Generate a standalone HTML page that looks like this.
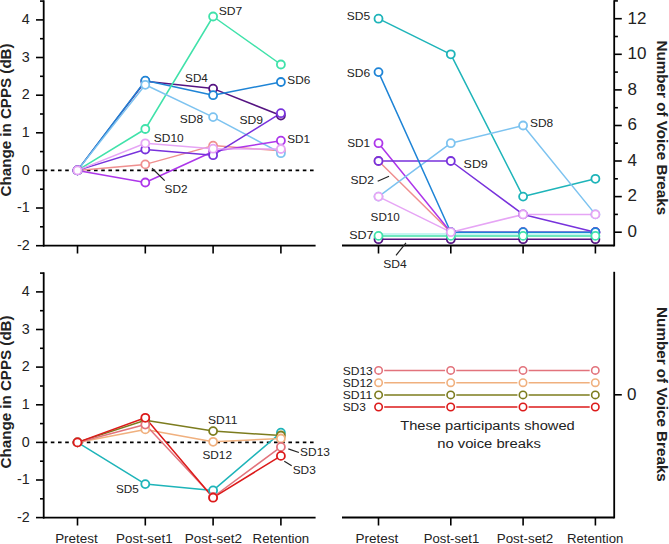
<!DOCTYPE html>
<html><head><meta charset="utf-8"><style>html,body{margin:0;padding:0;background:#fff;width:669px;height:544px;overflow:hidden}</style></head>
<body>
<svg width="669" height="544" viewBox="0 0 669 544" style="display:block" font-family='"Liberation Sans", sans-serif' fill="#222">
<rect width="669" height="544" fill="#fff"/>
<line x1="43.7" y1="0.3" x2="43.7" y2="246.5" stroke="#000" stroke-width="1.8"/>
<line x1="36" y1="245.7" x2="43.7" y2="245.7" stroke="#000" stroke-width="1.6"/>
<text x="29.8" y="249.8" font-size="14.3" text-anchor="end" font-weight="normal">-2</text>
<line x1="36" y1="208.0" x2="43.7" y2="208.0" stroke="#000" stroke-width="1.6"/>
<text x="29.8" y="212.2" font-size="14.3" text-anchor="end" font-weight="normal">-1</text>
<line x1="36" y1="170.4" x2="43.7" y2="170.4" stroke="#000" stroke-width="1.6"/>
<text x="29.8" y="174.6" font-size="14.3" text-anchor="end" font-weight="normal">0</text>
<line x1="36" y1="132.8" x2="43.7" y2="132.8" stroke="#000" stroke-width="1.6"/>
<text x="29.8" y="137.0" font-size="14.3" text-anchor="end" font-weight="normal">1</text>
<line x1="36" y1="95.2" x2="43.7" y2="95.2" stroke="#000" stroke-width="1.6"/>
<text x="29.8" y="99.4" font-size="14.3" text-anchor="end" font-weight="normal">2</text>
<line x1="36" y1="57.5" x2="43.7" y2="57.5" stroke="#000" stroke-width="1.6"/>
<text x="29.8" y="61.7" font-size="14.3" text-anchor="end" font-weight="normal">3</text>
<line x1="36" y1="19.9" x2="43.7" y2="19.9" stroke="#000" stroke-width="1.6"/>
<text x="29.8" y="24.1" font-size="14.3" text-anchor="end" font-weight="normal">4</text>
<line x1="40" y1="226.8" x2="43.7" y2="226.8" stroke="#000" stroke-width="1.6"/>
<line x1="40" y1="189.2" x2="43.7" y2="189.2" stroke="#000" stroke-width="1.6"/>
<line x1="40" y1="151.6" x2="43.7" y2="151.6" stroke="#000" stroke-width="1.6"/>
<line x1="40" y1="114.0" x2="43.7" y2="114.0" stroke="#000" stroke-width="1.6"/>
<line x1="40" y1="76.3" x2="43.7" y2="76.3" stroke="#000" stroke-width="1.6"/>
<line x1="40" y1="38.7" x2="43.7" y2="38.7" stroke="#000" stroke-width="1.6"/>
<line x1="40" y1="1.1" x2="43.7" y2="1.1" stroke="#000" stroke-width="1.6"/>
<line x1="43" y1="245.6" x2="315.6" y2="245.6" stroke="#000" stroke-width="1.8"/>
<line x1="77.5" y1="245.6" x2="77.5" y2="253.5" stroke="#000" stroke-width="1.6"/>
<line x1="145.3" y1="245.6" x2="145.3" y2="253.5" stroke="#000" stroke-width="1.6"/>
<line x1="213.1" y1="245.6" x2="213.1" y2="253.5" stroke="#000" stroke-width="1.6"/>
<line x1="280.9" y1="245.6" x2="280.9" y2="253.5" stroke="#000" stroke-width="1.6"/>
<line x1="43.6" y1="170.4" x2="315" y2="170.4" stroke="#000" stroke-width="1.8" stroke-dasharray="3.6 3.6"/>
<text transform="translate(10.9 119.9) rotate(-90)" font-size="14.5" font-weight="bold" text-anchor="middle" textLength="153" lengthAdjust="spacingAndGlyphs">Change in CPPS (dB)</text>
<polyline points="77.5,170.4 145.3,81.2 213.1,88.6 280.9,115.5" fill="none" stroke="#551482" stroke-width="1.5" stroke-linejoin="round"/>
<polyline points="77.5,170.4 145.3,80.6 213.1,95.2 280.9,82.0" fill="none" stroke="#1e84d6" stroke-width="1.5" stroke-linejoin="round"/>
<polyline points="77.5,170.4 145.3,129.0 213.1,16.5 280.9,64.5" fill="none" stroke="#40e2aa" stroke-width="1.5" stroke-linejoin="round"/>
<polyline points="77.5,170.4 145.3,164.4 213.1,145.6 280.9,150.8" fill="none" stroke="#ef8f8f" stroke-width="1.5" stroke-linejoin="round"/>
<polyline points="77.5,170.4 145.3,84.8 213.1,117.1 280.9,153.2" fill="none" stroke="#7dc3f0" stroke-width="1.5" stroke-linejoin="round"/>
<polyline points="77.5,170.4 145.3,182.5 213.1,151.5 280.9,140.7" fill="none" stroke="#ad36ea" stroke-width="1.5" stroke-linejoin="round"/>
<polyline points="77.5,170.4 145.3,149.5 213.1,155.2 280.9,113.2" fill="none" stroke="#7832dc" stroke-width="1.5" stroke-linejoin="round"/>
<polyline points="77.5,170.4 145.3,143.3 213.1,148.7 280.9,149.0" fill="none" stroke="#e6a5f5" stroke-width="1.5" stroke-linejoin="round"/>
<circle cx="77.5" cy="170.4" r="4.0" fill="#fff" stroke="#551482" stroke-width="1.8"/>
<circle cx="145.3" cy="81.2" r="4.0" fill="#fff" stroke="#551482" stroke-width="1.8"/>
<circle cx="213.1" cy="88.6" r="4.0" fill="#fff" stroke="#551482" stroke-width="1.8"/>
<circle cx="280.9" cy="115.5" r="4.0" fill="#fff" stroke="#551482" stroke-width="1.8"/>
<circle cx="77.5" cy="170.4" r="4.0" fill="#fff" stroke="#1e84d6" stroke-width="1.8"/>
<circle cx="145.3" cy="80.6" r="4.0" fill="#fff" stroke="#1e84d6" stroke-width="1.8"/>
<circle cx="213.1" cy="95.2" r="4.0" fill="#fff" stroke="#1e84d6" stroke-width="1.8"/>
<circle cx="280.9" cy="82.0" r="4.0" fill="#fff" stroke="#1e84d6" stroke-width="1.8"/>
<circle cx="77.5" cy="170.4" r="4.0" fill="#fff" stroke="#40e2aa" stroke-width="1.8"/>
<circle cx="145.3" cy="129.0" r="4.0" fill="#fff" stroke="#40e2aa" stroke-width="1.8"/>
<circle cx="213.1" cy="16.5" r="4.0" fill="#fff" stroke="#40e2aa" stroke-width="1.8"/>
<circle cx="280.9" cy="64.5" r="4.0" fill="#fff" stroke="#40e2aa" stroke-width="1.8"/>
<circle cx="77.5" cy="170.4" r="4.0" fill="#fff" stroke="#ef8f8f" stroke-width="1.8"/>
<circle cx="145.3" cy="164.4" r="4.0" fill="#fff" stroke="#ef8f8f" stroke-width="1.8"/>
<circle cx="213.1" cy="145.6" r="4.0" fill="#fff" stroke="#ef8f8f" stroke-width="1.8"/>
<circle cx="280.9" cy="150.8" r="4.0" fill="#fff" stroke="#ef8f8f" stroke-width="1.8"/>
<circle cx="77.5" cy="170.4" r="4.0" fill="#fff" stroke="#7dc3f0" stroke-width="1.8"/>
<circle cx="145.3" cy="84.8" r="4.0" fill="#fff" stroke="#7dc3f0" stroke-width="1.8"/>
<circle cx="213.1" cy="117.1" r="4.0" fill="#fff" stroke="#7dc3f0" stroke-width="1.8"/>
<circle cx="280.9" cy="153.2" r="4.0" fill="#fff" stroke="#7dc3f0" stroke-width="1.8"/>
<circle cx="77.5" cy="170.4" r="4.0" fill="#fff" stroke="#ad36ea" stroke-width="1.8"/>
<circle cx="145.3" cy="182.5" r="4.0" fill="#fff" stroke="#ad36ea" stroke-width="1.8"/>
<circle cx="213.1" cy="151.5" r="4.0" fill="#fff" stroke="#ad36ea" stroke-width="1.8"/>
<circle cx="280.9" cy="140.7" r="4.0" fill="#fff" stroke="#ad36ea" stroke-width="1.8"/>
<circle cx="77.5" cy="170.4" r="4.0" fill="#fff" stroke="#7832dc" stroke-width="1.8"/>
<circle cx="145.3" cy="149.5" r="4.0" fill="#fff" stroke="#7832dc" stroke-width="1.8"/>
<circle cx="213.1" cy="155.2" r="4.0" fill="#fff" stroke="#7832dc" stroke-width="1.8"/>
<circle cx="280.9" cy="113.2" r="4.0" fill="#fff" stroke="#7832dc" stroke-width="1.8"/>
<circle cx="77.5" cy="170.4" r="4.0" fill="#fff" stroke="#e6a5f5" stroke-width="1.8"/>
<circle cx="145.3" cy="143.3" r="4.0" fill="#fff" stroke="#e6a5f5" stroke-width="1.8"/>
<circle cx="213.1" cy="148.7" r="4.0" fill="#fff" stroke="#e6a5f5" stroke-width="1.8"/>
<circle cx="280.9" cy="149.0" r="4.0" fill="#fff" stroke="#e6a5f5" stroke-width="1.8"/>
<text x="218.7" y="15.2" font-size="11" text-anchor="start" font-weight="normal" textLength="23.6" lengthAdjust="spacingAndGlyphs">SD7</text>
<text x="185.1" y="82.4" font-size="11" text-anchor="start" font-weight="normal" textLength="22.8" lengthAdjust="spacingAndGlyphs">SD4</text>
<text x="287.3" y="84.0" font-size="11" text-anchor="start" font-weight="normal" textLength="23.0" lengthAdjust="spacingAndGlyphs">SD6</text>
<text x="179.79999999999998" y="123.1" font-size="11" text-anchor="start" font-weight="normal" textLength="23.3" lengthAdjust="spacingAndGlyphs">SD8</text>
<text x="239.39999999999998" y="123.8" font-size="11" text-anchor="start" font-weight="normal" textLength="23.6" lengthAdjust="spacingAndGlyphs">SD9</text>
<text x="153.79999999999998" y="141.9" font-size="11" text-anchor="start" font-weight="normal" textLength="29.900000000000002" lengthAdjust="spacingAndGlyphs">SD10</text>
<text x="287.2" y="142.9" font-size="11" text-anchor="start" font-weight="normal" textLength="22.8" lengthAdjust="spacingAndGlyphs">SD1</text>
<text x="164.6" y="192.5" font-size="11" text-anchor="start" font-weight="normal" textLength="23.0" lengthAdjust="spacingAndGlyphs">SD2</text>
<line x1="152.1" y1="168.2" x2="164.7" y2="180.6" stroke="#222" stroke-width="1.2"/>
<line x1="614.2" y1="0.2" x2="614.2" y2="246.4" stroke="#000" stroke-width="1.8"/>
<line x1="342" y1="245.5" x2="614.2" y2="245.5" stroke="#000" stroke-width="1.8"/>
<line x1="378.5" y1="245.5" x2="378.5" y2="253.5" stroke="#000" stroke-width="1.6"/>
<line x1="450.8" y1="245.5" x2="450.8" y2="253.5" stroke="#000" stroke-width="1.6"/>
<line x1="523.1" y1="245.5" x2="523.1" y2="253.5" stroke="#000" stroke-width="1.6"/>
<line x1="595.4" y1="245.5" x2="595.4" y2="253.5" stroke="#000" stroke-width="1.6"/>
<line x1="614.2" y1="232.2" x2="621.8" y2="232.2" stroke="#000" stroke-width="1.6"/>
<text x="627.6" y="237.0" font-size="17" text-anchor="start" font-weight="normal">0</text>
<line x1="614.2" y1="196.6" x2="621.8" y2="196.6" stroke="#000" stroke-width="1.6"/>
<text x="627.6" y="201.4" font-size="17" text-anchor="start" font-weight="normal">2</text>
<line x1="614.2" y1="161.0" x2="621.8" y2="161.0" stroke="#000" stroke-width="1.6"/>
<text x="627.6" y="165.8" font-size="17" text-anchor="start" font-weight="normal">4</text>
<line x1="614.2" y1="125.5" x2="621.8" y2="125.5" stroke="#000" stroke-width="1.6"/>
<text x="627.6" y="130.3" font-size="17" text-anchor="start" font-weight="normal">6</text>
<line x1="614.2" y1="89.9" x2="621.8" y2="89.9" stroke="#000" stroke-width="1.6"/>
<text x="627.6" y="94.7" font-size="17" text-anchor="start" font-weight="normal">8</text>
<line x1="614.2" y1="54.3" x2="621.8" y2="54.3" stroke="#000" stroke-width="1.6"/>
<text x="627.6" y="59.1" font-size="17" text-anchor="start" font-weight="normal">10</text>
<line x1="614.2" y1="18.7" x2="621.8" y2="18.7" stroke="#000" stroke-width="1.6"/>
<text x="627.6" y="23.5" font-size="17" text-anchor="start" font-weight="normal">12</text>
<line x1="614.2" y1="214.4" x2="617.9" y2="214.4" stroke="#000" stroke-width="1.6"/>
<line x1="614.2" y1="178.8" x2="617.9" y2="178.8" stroke="#000" stroke-width="1.6"/>
<line x1="614.2" y1="143.2" x2="617.9" y2="143.2" stroke="#000" stroke-width="1.6"/>
<line x1="614.2" y1="107.7" x2="617.9" y2="107.7" stroke="#000" stroke-width="1.6"/>
<line x1="614.2" y1="72.1" x2="617.9" y2="72.1" stroke="#000" stroke-width="1.6"/>
<line x1="614.2" y1="36.5" x2="617.9" y2="36.5" stroke="#000" stroke-width="1.6"/>
<line x1="614.2" y1="0.9" x2="617.9" y2="0.9" stroke="#000" stroke-width="1.6"/>
<text transform="translate(656.8 127.85) rotate(90)" font-size="14.8" font-weight="bold" text-anchor="middle" textLength="174.7" lengthAdjust="spacingAndGlyphs">Number of Voice Breaks</text>
<polyline points="378.5,239.2 450.8,239.2 523.1,239.2 595.4,239.2" fill="none" stroke="#551482" stroke-width="1.5" stroke-linejoin="round"/>
<polyline points="378.5,234.1 450.8,234.1 523.1,234.1 595.4,234.1" fill="none" stroke="#b4f2ee" stroke-width="1.5" stroke-linejoin="round"/>
<polyline points="378.5,161.0 450.8,232.2 523.1,232.2 595.4,232.2" fill="none" stroke="#ef8f8f" stroke-width="1.5" stroke-linejoin="round"/>
<polyline points="378.5,143.2 450.8,232.2 523.1,232.2 595.4,232.2" fill="none" stroke="#ad36ea" stroke-width="1.5" stroke-linejoin="round"/>
<polyline points="378.5,18.7 450.8,54.3 523.1,196.6 595.4,178.8" fill="none" stroke="#1eb4b9" stroke-width="1.5" stroke-linejoin="round"/>
<polyline points="378.5,196.6 450.8,143.2 523.1,125.5 595.4,214.4" fill="none" stroke="#7dc3f0" stroke-width="1.5" stroke-linejoin="round"/>
<polyline points="378.5,161.0 450.8,161.0 523.1,214.4 595.4,232.2" fill="none" stroke="#7832dc" stroke-width="1.5" stroke-linejoin="round"/>
<polyline points="378.5,72.1 450.8,232.2 523.1,232.2 595.4,232.2" fill="none" stroke="#1e84d6" stroke-width="1.5" stroke-linejoin="round"/>
<polyline points="378.5,235.9 450.8,235.9 523.1,235.9 595.4,235.9" fill="none" stroke="#40e2aa" stroke-width="1.5" stroke-linejoin="round"/>
<polyline points="378.5,196.6 450.8,232.2 523.1,214.4 595.4,214.4" fill="none" stroke="#e6a5f5" stroke-width="1.5" stroke-linejoin="round"/>
<circle cx="378.5" cy="239.2" r="4.0" fill="#fff" stroke="#551482" stroke-width="1.8"/>
<circle cx="450.8" cy="239.2" r="4.0" fill="#fff" stroke="#551482" stroke-width="1.8"/>
<circle cx="523.1" cy="239.2" r="4.0" fill="#fff" stroke="#551482" stroke-width="1.8"/>
<circle cx="595.4" cy="239.2" r="4.0" fill="#fff" stroke="#551482" stroke-width="1.8"/>
<circle cx="378.5" cy="161.0" r="4.0" fill="#fff" stroke="#ef8f8f" stroke-width="1.8"/>
<circle cx="450.8" cy="232.2" r="4.0" fill="#fff" stroke="#ef8f8f" stroke-width="1.8"/>
<circle cx="523.1" cy="232.2" r="4.0" fill="#fff" stroke="#ef8f8f" stroke-width="1.8"/>
<circle cx="595.4" cy="232.2" r="4.0" fill="#fff" stroke="#ef8f8f" stroke-width="1.8"/>
<circle cx="378.5" cy="143.2" r="4.0" fill="#fff" stroke="#ad36ea" stroke-width="1.8"/>
<circle cx="450.8" cy="232.2" r="4.0" fill="#fff" stroke="#ad36ea" stroke-width="1.8"/>
<circle cx="523.1" cy="232.2" r="4.0" fill="#fff" stroke="#ad36ea" stroke-width="1.8"/>
<circle cx="595.4" cy="232.2" r="4.0" fill="#fff" stroke="#ad36ea" stroke-width="1.8"/>
<circle cx="378.5" cy="18.7" r="4.0" fill="#fff" stroke="#1eb4b9" stroke-width="1.8"/>
<circle cx="450.8" cy="54.3" r="4.0" fill="#fff" stroke="#1eb4b9" stroke-width="1.8"/>
<circle cx="523.1" cy="196.6" r="4.0" fill="#fff" stroke="#1eb4b9" stroke-width="1.8"/>
<circle cx="595.4" cy="178.8" r="4.0" fill="#fff" stroke="#1eb4b9" stroke-width="1.8"/>
<circle cx="378.5" cy="196.6" r="4.0" fill="#fff" stroke="#7dc3f0" stroke-width="1.8"/>
<circle cx="450.8" cy="143.2" r="4.0" fill="#fff" stroke="#7dc3f0" stroke-width="1.8"/>
<circle cx="523.1" cy="125.5" r="4.0" fill="#fff" stroke="#7dc3f0" stroke-width="1.8"/>
<circle cx="595.4" cy="214.4" r="4.0" fill="#fff" stroke="#7dc3f0" stroke-width="1.8"/>
<circle cx="378.5" cy="161.0" r="4.0" fill="#fff" stroke="#7832dc" stroke-width="1.8"/>
<circle cx="450.8" cy="161.0" r="4.0" fill="#fff" stroke="#7832dc" stroke-width="1.8"/>
<circle cx="523.1" cy="214.4" r="4.0" fill="#fff" stroke="#7832dc" stroke-width="1.8"/>
<circle cx="595.4" cy="232.2" r="4.0" fill="#fff" stroke="#7832dc" stroke-width="1.8"/>
<circle cx="378.5" cy="72.1" r="4.0" fill="#fff" stroke="#1e84d6" stroke-width="1.8"/>
<circle cx="450.8" cy="232.2" r="4.0" fill="#fff" stroke="#1e84d6" stroke-width="1.8"/>
<circle cx="523.1" cy="232.2" r="4.0" fill="#fff" stroke="#1e84d6" stroke-width="1.8"/>
<circle cx="595.4" cy="232.2" r="4.0" fill="#fff" stroke="#1e84d6" stroke-width="1.8"/>
<circle cx="378.5" cy="235.9" r="4.0" fill="#fff" stroke="#40e2aa" stroke-width="1.8"/>
<circle cx="450.8" cy="235.9" r="4.0" fill="#fff" stroke="#40e2aa" stroke-width="1.8"/>
<circle cx="523.1" cy="235.9" r="4.0" fill="#fff" stroke="#40e2aa" stroke-width="1.8"/>
<circle cx="595.4" cy="235.9" r="4.0" fill="#fff" stroke="#40e2aa" stroke-width="1.8"/>
<circle cx="378.5" cy="196.6" r="4.0" fill="#fff" stroke="#e6a5f5" stroke-width="1.8"/>
<circle cx="450.8" cy="232.2" r="4.0" fill="#fff" stroke="#e6a5f5" stroke-width="1.8"/>
<circle cx="523.1" cy="214.4" r="4.0" fill="#fff" stroke="#e6a5f5" stroke-width="1.8"/>
<circle cx="595.4" cy="214.4" r="4.0" fill="#fff" stroke="#e6a5f5" stroke-width="1.8"/>
<text x="346.8" y="20.0" font-size="11" text-anchor="start" font-weight="normal" textLength="23.400000000000002" lengthAdjust="spacingAndGlyphs">SD5</text>
<text x="346.8" y="76.6" font-size="11" text-anchor="start" font-weight="normal" textLength="23.400000000000002" lengthAdjust="spacingAndGlyphs">SD6</text>
<text x="347.2" y="146.5" font-size="11" text-anchor="start" font-weight="normal" textLength="23.0" lengthAdjust="spacingAndGlyphs">SD1</text>
<text x="350.5" y="184.2" font-size="11" text-anchor="start" font-weight="normal" textLength="23.5" lengthAdjust="spacingAndGlyphs">SD2</text>
<line x1="377.7" y1="181.2" x2="389" y2="176.2" stroke="#222" stroke-width="1.2"/>
<text x="370.59999999999997" y="221.0" font-size="11" text-anchor="start" font-weight="normal" textLength="29.200000000000003" lengthAdjust="spacingAndGlyphs">SD10</text>
<text x="349.2" y="239.0" font-size="11" text-anchor="start" font-weight="normal" textLength="24.3" lengthAdjust="spacingAndGlyphs">SD7</text>
<text x="383.2" y="268.0" font-size="11" text-anchor="start" font-weight="normal" textLength="23.5" lengthAdjust="spacingAndGlyphs">SD4</text>
<line x1="396" y1="255.3" x2="406" y2="242.8" stroke="#222" stroke-width="1.2"/>
<text x="463.59999999999997" y="168.2" font-size="11" text-anchor="start" font-weight="normal" textLength="24.200000000000003" lengthAdjust="spacingAndGlyphs">SD9</text>
<text x="530.0" y="126.7" font-size="11" text-anchor="start" font-weight="normal" textLength="23.200000000000003" lengthAdjust="spacingAndGlyphs">SD8</text>
<line x1="43.7" y1="272.3" x2="43.7" y2="518.5" stroke="#000" stroke-width="1.8"/>
<line x1="36" y1="517.6" x2="43.7" y2="517.6" stroke="#000" stroke-width="1.6"/>
<text x="29.8" y="521.9" font-size="14.3" text-anchor="end" font-weight="normal">-2</text>
<line x1="36" y1="480.0" x2="43.7" y2="480.0" stroke="#000" stroke-width="1.6"/>
<text x="29.8" y="484.2" font-size="14.3" text-anchor="end" font-weight="normal">-1</text>
<line x1="36" y1="442.4" x2="43.7" y2="442.4" stroke="#000" stroke-width="1.6"/>
<text x="29.8" y="446.6" font-size="14.3" text-anchor="end" font-weight="normal">0</text>
<line x1="36" y1="404.8" x2="43.7" y2="404.8" stroke="#000" stroke-width="1.6"/>
<text x="29.8" y="409.0" font-size="14.3" text-anchor="end" font-weight="normal">1</text>
<line x1="36" y1="367.1" x2="43.7" y2="367.1" stroke="#000" stroke-width="1.6"/>
<text x="29.8" y="371.3" font-size="14.3" text-anchor="end" font-weight="normal">2</text>
<line x1="36" y1="329.5" x2="43.7" y2="329.5" stroke="#000" stroke-width="1.6"/>
<text x="29.8" y="333.7" font-size="14.3" text-anchor="end" font-weight="normal">3</text>
<line x1="36" y1="291.9" x2="43.7" y2="291.9" stroke="#000" stroke-width="1.6"/>
<text x="29.8" y="296.1" font-size="14.3" text-anchor="end" font-weight="normal">4</text>
<line x1="40" y1="498.8" x2="43.7" y2="498.8" stroke="#000" stroke-width="1.6"/>
<line x1="40" y1="461.2" x2="43.7" y2="461.2" stroke="#000" stroke-width="1.6"/>
<line x1="40" y1="423.6" x2="43.7" y2="423.6" stroke="#000" stroke-width="1.6"/>
<line x1="40" y1="386.0" x2="43.7" y2="386.0" stroke="#000" stroke-width="1.6"/>
<line x1="40" y1="348.3" x2="43.7" y2="348.3" stroke="#000" stroke-width="1.6"/>
<line x1="40" y1="310.7" x2="43.7" y2="310.7" stroke="#000" stroke-width="1.6"/>
<line x1="40" y1="273.1" x2="43.7" y2="273.1" stroke="#000" stroke-width="1.6"/>
<line x1="43" y1="517.6" x2="315.6" y2="517.6" stroke="#000" stroke-width="1.8"/>
<line x1="77.5" y1="517.6" x2="77.5" y2="525.5" stroke="#000" stroke-width="1.6"/>
<line x1="145.3" y1="517.6" x2="145.3" y2="525.5" stroke="#000" stroke-width="1.6"/>
<line x1="213.1" y1="517.6" x2="213.1" y2="525.5" stroke="#000" stroke-width="1.6"/>
<line x1="280.9" y1="517.6" x2="280.9" y2="525.5" stroke="#000" stroke-width="1.6"/>
<line x1="43.6" y1="442.4" x2="315" y2="442.4" stroke="#000" stroke-width="1.8" stroke-dasharray="3.6 3.6"/>
<text transform="translate(10.9 391.9) rotate(-90)" font-size="14.5" font-weight="bold" text-anchor="middle" textLength="153" lengthAdjust="spacingAndGlyphs">Change in CPPS (dB)</text>
<polyline points="77.5,442.4 145.3,484.1 213.1,490.4 280.9,432.6" fill="none" stroke="#1eb4b9" stroke-width="1.5" stroke-linejoin="round"/>
<polyline points="77.5,442.4 145.3,420.3 213.1,431.1 280.9,435.5" fill="none" stroke="#7c7c1e" stroke-width="1.5" stroke-linejoin="round"/>
<polyline points="77.5,442.4 145.3,429.4 213.1,441.8 280.9,438.5" fill="none" stroke="#f0b07e" stroke-width="1.5" stroke-linejoin="round"/>
<polyline points="77.5,442.4 145.3,424.6 213.1,497.0 280.9,446.9" fill="none" stroke="#e2737c" stroke-width="1.5" stroke-linejoin="round"/>
<polyline points="77.5,442.4 145.3,417.8 213.1,497.7 280.9,455.9" fill="none" stroke="#dc1a1a" stroke-width="1.5" stroke-linejoin="round"/>
<circle cx="77.5" cy="442.4" r="4.0" fill="#fff" stroke="#1eb4b9" stroke-width="1.8"/>
<circle cx="145.3" cy="484.1" r="4.0" fill="#fff" stroke="#1eb4b9" stroke-width="1.8"/>
<circle cx="213.1" cy="490.4" r="4.0" fill="#fff" stroke="#1eb4b9" stroke-width="1.8"/>
<circle cx="280.9" cy="432.6" r="4.0" fill="#fff" stroke="#1eb4b9" stroke-width="1.8"/>
<circle cx="77.5" cy="442.4" r="4.0" fill="#fff" stroke="#7c7c1e" stroke-width="1.8"/>
<circle cx="145.3" cy="420.3" r="4.0" fill="#fff" stroke="#7c7c1e" stroke-width="1.8"/>
<circle cx="213.1" cy="431.1" r="4.0" fill="#fff" stroke="#7c7c1e" stroke-width="1.8"/>
<circle cx="280.9" cy="435.5" r="4.0" fill="#fff" stroke="#7c7c1e" stroke-width="1.8"/>
<circle cx="77.5" cy="442.4" r="4.0" fill="#fff" stroke="#f0b07e" stroke-width="1.8"/>
<circle cx="145.3" cy="429.4" r="4.0" fill="#fff" stroke="#f0b07e" stroke-width="1.8"/>
<circle cx="213.1" cy="441.8" r="4.0" fill="#fff" stroke="#f0b07e" stroke-width="1.8"/>
<circle cx="280.9" cy="438.5" r="4.0" fill="#fff" stroke="#f0b07e" stroke-width="1.8"/>
<circle cx="77.5" cy="442.4" r="4.0" fill="#fff" stroke="#e2737c" stroke-width="1.8"/>
<circle cx="145.3" cy="424.6" r="4.0" fill="#fff" stroke="#e2737c" stroke-width="1.8"/>
<circle cx="213.1" cy="497.0" r="4.0" fill="#fff" stroke="#e2737c" stroke-width="1.8"/>
<circle cx="280.9" cy="446.9" r="4.0" fill="#fff" stroke="#e2737c" stroke-width="1.8"/>
<circle cx="77.5" cy="442.4" r="4.0" fill="#fff" stroke="#dc1a1a" stroke-width="1.8"/>
<circle cx="145.3" cy="417.8" r="4.0" fill="#fff" stroke="#dc1a1a" stroke-width="1.8"/>
<circle cx="213.1" cy="497.7" r="4.0" fill="#fff" stroke="#dc1a1a" stroke-width="1.8"/>
<circle cx="280.9" cy="455.9" r="4.0" fill="#fff" stroke="#dc1a1a" stroke-width="1.8"/>
<text x="208.0" y="423.7" font-size="11" text-anchor="start" font-weight="normal" textLength="29.400000000000002" lengthAdjust="spacingAndGlyphs">SD11</text>
<text x="202.39999999999998" y="459.3" font-size="11" text-anchor="start" font-weight="normal" textLength="29.6" lengthAdjust="spacingAndGlyphs">SD12</text>
<text x="300.09999999999997" y="455.9" font-size="11" text-anchor="start" font-weight="normal" textLength="29.8" lengthAdjust="spacingAndGlyphs">SD13</text>
<text x="292.7" y="473.5" font-size="11" text-anchor="start" font-weight="normal" textLength="23.1" lengthAdjust="spacingAndGlyphs">SD3</text>
<text x="115.9" y="492.5" font-size="11" text-anchor="start" font-weight="normal" textLength="22.8" lengthAdjust="spacingAndGlyphs">SD5</text>
<line x1="288.3" y1="448.9" x2="298.9" y2="452.5" stroke="#222" stroke-width="1.2"/>
<line x1="284.3" y1="461.3" x2="291.7" y2="465.8" stroke="#222" stroke-width="1.2"/>
<line x1="614.2" y1="271.8" x2="614.2" y2="518.4" stroke="#000" stroke-width="1.8"/>
<line x1="342" y1="517.5" x2="614.2" y2="517.5" stroke="#000" stroke-width="1.8"/>
<line x1="378.5" y1="517.5" x2="378.5" y2="525.5" stroke="#000" stroke-width="1.6"/>
<line x1="450.8" y1="517.5" x2="450.8" y2="525.5" stroke="#000" stroke-width="1.6"/>
<line x1="523.1" y1="517.5" x2="523.1" y2="525.5" stroke="#000" stroke-width="1.6"/>
<line x1="595.4" y1="517.5" x2="595.4" y2="525.5" stroke="#000" stroke-width="1.6"/>
<line x1="614.2" y1="394.8" x2="621.8" y2="394.8" stroke="#000" stroke-width="1.6"/>
<text x="627.0" y="399.6" font-size="17" text-anchor="start" font-weight="normal">0</text>
<text transform="translate(656.8 394.45) rotate(90)" font-size="14.8" font-weight="bold" text-anchor="middle" textLength="174.7" lengthAdjust="spacingAndGlyphs">Number of Voice Breaks</text>
<line x1="384.2" y1="370.4" x2="445.1" y2="370.4" stroke="#e2737c" stroke-width="1.5"/>
<line x1="456.3" y1="370.4" x2="517.4" y2="370.4" stroke="#e2737c" stroke-width="1.5"/>
<line x1="528.6" y1="370.4" x2="589.7" y2="370.4" stroke="#e2737c" stroke-width="1.5"/>
<circle cx="378.6" cy="370.4" r="3.7" fill="#fff" stroke="#e2737c" stroke-width="1.6"/>
<circle cx="450.7" cy="370.4" r="3.7" fill="#fff" stroke="#e2737c" stroke-width="1.6"/>
<circle cx="523.0" cy="370.4" r="3.7" fill="#fff" stroke="#e2737c" stroke-width="1.6"/>
<circle cx="595.3" cy="370.4" r="3.7" fill="#fff" stroke="#e2737c" stroke-width="1.6"/>
<line x1="384.2" y1="382.7" x2="445.1" y2="382.7" stroke="#f0b07e" stroke-width="1.5"/>
<line x1="456.3" y1="382.7" x2="517.4" y2="382.7" stroke="#f0b07e" stroke-width="1.5"/>
<line x1="528.6" y1="382.7" x2="589.7" y2="382.7" stroke="#f0b07e" stroke-width="1.5"/>
<circle cx="378.6" cy="382.7" r="3.7" fill="#fff" stroke="#f0b07e" stroke-width="1.6"/>
<circle cx="450.7" cy="382.7" r="3.7" fill="#fff" stroke="#f0b07e" stroke-width="1.6"/>
<circle cx="523.0" cy="382.7" r="3.7" fill="#fff" stroke="#f0b07e" stroke-width="1.6"/>
<circle cx="595.3" cy="382.7" r="3.7" fill="#fff" stroke="#f0b07e" stroke-width="1.6"/>
<line x1="384.2" y1="394.9" x2="445.1" y2="394.9" stroke="#7c7c1e" stroke-width="1.5"/>
<line x1="456.3" y1="394.9" x2="517.4" y2="394.9" stroke="#7c7c1e" stroke-width="1.5"/>
<line x1="528.6" y1="394.9" x2="589.7" y2="394.9" stroke="#7c7c1e" stroke-width="1.5"/>
<circle cx="378.6" cy="394.9" r="3.7" fill="#fff" stroke="#7c7c1e" stroke-width="1.6"/>
<circle cx="450.7" cy="394.9" r="3.7" fill="#fff" stroke="#7c7c1e" stroke-width="1.6"/>
<circle cx="523.0" cy="394.9" r="3.7" fill="#fff" stroke="#7c7c1e" stroke-width="1.6"/>
<circle cx="595.3" cy="394.9" r="3.7" fill="#fff" stroke="#7c7c1e" stroke-width="1.6"/>
<line x1="384.2" y1="407.0" x2="445.1" y2="407.0" stroke="#dc1a1a" stroke-width="1.5"/>
<line x1="456.3" y1="407.0" x2="517.4" y2="407.0" stroke="#dc1a1a" stroke-width="1.5"/>
<line x1="528.6" y1="407.0" x2="589.7" y2="407.0" stroke="#dc1a1a" stroke-width="1.5"/>
<circle cx="378.6" cy="407.0" r="3.7" fill="#fff" stroke="#dc1a1a" stroke-width="1.6"/>
<circle cx="450.7" cy="407.0" r="3.7" fill="#fff" stroke="#dc1a1a" stroke-width="1.6"/>
<circle cx="523.0" cy="407.0" r="3.7" fill="#fff" stroke="#dc1a1a" stroke-width="1.6"/>
<circle cx="595.3" cy="407.0" r="3.7" fill="#fff" stroke="#dc1a1a" stroke-width="1.6"/>
<text x="342.7" y="374.5" font-size="11" text-anchor="start" font-weight="normal" textLength="30.1" lengthAdjust="spacingAndGlyphs">SD13</text>
<text x="342.7" y="386.7" font-size="11" text-anchor="start" font-weight="normal" textLength="30.1" lengthAdjust="spacingAndGlyphs">SD12</text>
<text x="342.7" y="399.0" font-size="11" text-anchor="start" font-weight="normal" textLength="29.6" lengthAdjust="spacingAndGlyphs">SD11</text>
<text x="342.7" y="411.0" font-size="11" text-anchor="start" font-weight="normal" textLength="23.1" lengthAdjust="spacingAndGlyphs">SD3</text>
<text x="487.5" y="430.2" font-size="13.7" text-anchor="middle" font-weight="normal" textLength="174.6" lengthAdjust="spacingAndGlyphs">These participants showed</text>
<text x="489.0" y="447.9" font-size="13.7" text-anchor="middle" font-weight="normal" textLength="103.6" lengthAdjust="spacingAndGlyphs">no voice breaks</text>
<text x="76.45" y="542.9" font-size="12.8" text-anchor="middle" font-weight="normal" textLength="42.6" lengthAdjust="spacingAndGlyphs">Pretest</text>
<text x="144.4" y="542.9" font-size="12.8" text-anchor="middle" font-weight="normal" textLength="56.6" lengthAdjust="spacingAndGlyphs">Post-set1</text>
<text x="213.4" y="542.9" font-size="12.8" text-anchor="middle" font-weight="normal" textLength="57.2" lengthAdjust="spacingAndGlyphs">Post-set2</text>
<text x="280.9" y="542.9" font-size="12.8" text-anchor="middle" font-weight="normal" textLength="56.6" lengthAdjust="spacingAndGlyphs">Retention</text>
<text x="376.8" y="542.9" font-size="12.8" text-anchor="middle" font-weight="normal" textLength="42.8" lengthAdjust="spacingAndGlyphs">Pretest</text>
<text x="451.5" y="542.9" font-size="12.8" text-anchor="middle" font-weight="normal" textLength="55.4" lengthAdjust="spacingAndGlyphs">Post-set1</text>
<text x="525.0" y="542.9" font-size="12.8" text-anchor="middle" font-weight="normal" textLength="56.5" lengthAdjust="spacingAndGlyphs">Post-set2</text>
<text x="595.1" y="542.9" font-size="12.8" text-anchor="middle" font-weight="normal" textLength="56.4" lengthAdjust="spacingAndGlyphs">Retention</text>
</svg>
</body></html>
